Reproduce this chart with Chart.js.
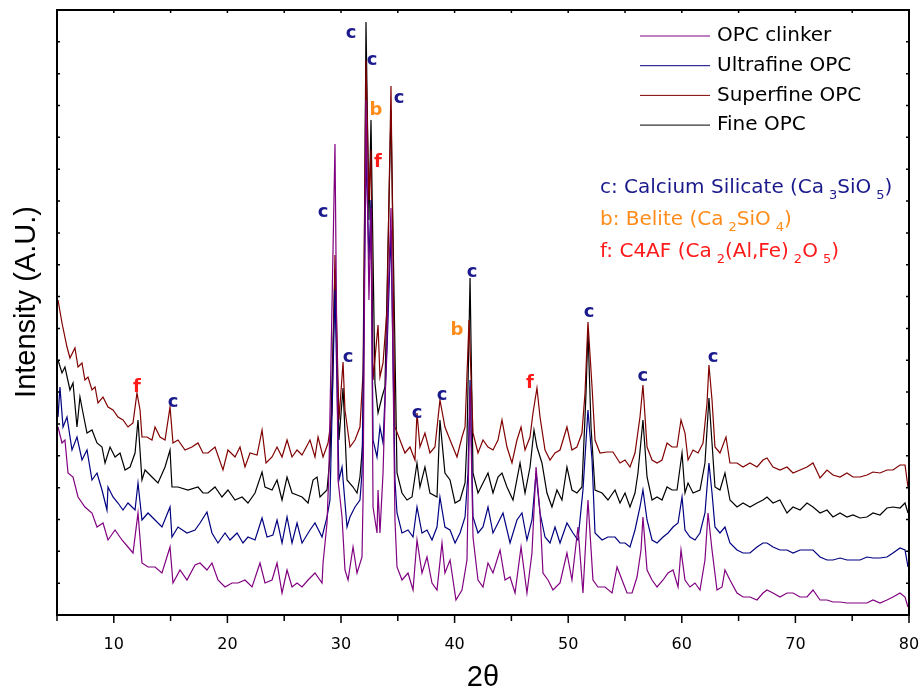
<!DOCTYPE html>
<html lang="en">
<head>
    <meta charset="UTF-8">
    <title>XRD patterns of OPC samples</title>
    <script src="https://cdn.jsdelivr.net/npm/chart.js"></script>
    <style>
        html, body { margin: 0; padding: 0; background: #fff; }
        #wrap { width: 923px; height: 692px; }
    </style>
</head>
<body>
    <div id="wrap"><canvas id="xrdChart"></canvas></div>

    <script>
        // 2-theta positions and intensities (A.U.), one pair of arrays per sample
        const superfineX = [5.09,5.44,5.88,6.14,6.58,6.85,7.20,7.46,7.73,8.08, 8.35,8.61,9.05,9.49,9.93,10.37,10.81,11.25,11.69,12.04,
            12.31,12.48,12.92,13.36,13.63,14.07,14.51,14.95,15.21,15.65, 16.27,16.88,17.41,17.85,18.29,18.91,19.61,20.05,20.67,21.11,
            21.55,21.99,22.61,23.05,23.40,23.93,24.37,24.81,25.25,25.69, 26.13,26.57,27.27,27.71,27.98,28.42,28.86,29.21,29.47,29.82,
            30.18,30.35,30.79,31.23,31.67,31.94,32.20,32.46,32.64,32.82, 33.26,33.43,33.70,34.05,34.40,34.75,35.19,35.63,36.07,36.51,
            36.69,36.95,37.39,37.83,38.27,38.71,39.15,39.60,40.21,40.65, 40.92,41.27,41.62,42.06,42.50,42.94,43.38,43.82,44.17,44.61,
            45.05,45.49,45.85,46.20,46.64,46.90,47.25,47.52,47.96,48.40, 48.84,49.28,49.89,50.33,50.77,51.21,51.48,51.74,52.10,52.36,
            52.80,53.42,53.94,54.56,55.00,55.44,55.88,56.32,56.58,56.94, 57.38,57.82,58.26,58.70,59.14,59.58,59.93,60.28,60.55,60.99,
            61.43,61.87,62.22,62.39,62.66,62.92,63.36,63.89,64.24,64.86, 65.39,66.00,66.62,67.15,67.50,68.03,68.64,69.26,69.79,70.41,
            71.02,71.55,72.17,72.78,73.31,73.93,74.54,75.07,75.69,76.30, 76.83,77.45,78.06,78.59,79.21,79.65,79.91];
        const superfineY = [315,292,268,257,267,248,252,235,238,225, 228,212,218,208,205,198,195,188,192,222,
            205,178,178,175,188,178,175,208,172,175, 165,168,172,162,162,168,145,165,158,168,
            148,162,160,185,152,158,168,158,175,158, 165,160,175,158,178,158,172,202,360,195,
            253,205,168,175,188,242,555,415,465,235, 290,238,252,305,529,188,175,162,168,155,
            202,168,182,162,168,215,188,175,158,178, 188,295,182,162,175,168,165,175,195,168,
            152,175,188,165,178,202,227,198,165,155, 162,165,188,165,168,182,222,293,228,175,
            162,163,163,152,155,148,162,198,230,168, 155,152,155,172,168,168,195,182,155,165,
            162,172,212,250,215,168,162,178,152,152, 148,152,148,155,157,148,145,148,142,145,
            148,152,137,145,140,138,142,138,138,140, 143,142,145,145,150,150,128];

        const fineX = [5.09,5.44,5.70,6.14,6.41,6.76,7.02,7.29,7.64,8.08, 8.52,8.96,9.23,9.67,10.11,10.55,10.99,11.43,11.87,12.13,
            12.48,12.75,13.36,13.89,14.51,14.95,15.12,15.65,16.53,17.41, 17.85,18.29,18.91,19.52,20.05,20.67,21.29,21.81,22.43,23.05,
            23.31,23.93,24.37,24.81,25.25,25.69,26.13,26.57,27.10,27.54, 27.89,28.15,28.77,29.03,29.47,29.82,30.18,30.53,31.06,31.41,
            31.67,31.94,32.20,32.46,32.64,32.99,33.26,33.61,33.87,34.40, 34.93,35.37,35.81,36.25,36.69,36.95,37.39,37.83,38.45,38.71,
            39.15,39.60,40.04,40.48,40.92,41.09,41.36,41.62,42.06,42.50, 42.94,43.38,43.82,44.17,44.61,45.14,45.76,46.20,46.64,46.99,
            47.25,47.69,48.13,48.57,49.01,49.45,49.89,50.33,50.77,51.21, 51.57,51.74,52.01,52.36,52.98,53.50,54.12,54.56,55.00,55.44,
            55.88,56.14,56.58,56.94,57.38,57.82,58.26,58.70,59.14,59.58, 60.02,60.28,60.55,60.99,61.60,62.04,62.39,62.66,62.92,63.36,
            63.80,64.24,64.86,65.39,66.00,66.62,67.15,67.50,68.03,68.64, 69.26,69.79,70.41,71.02,71.55,72.17,72.78,73.31,73.93,74.54,
            75.07,75.69,76.30,76.83,77.45,78.06,78.59,79.21,79.65,79.91];
        const fineY = [255,242,248,225,232,188,218,202,182,185, 172,168,152,168,158,162,145,148,162,195,
            135,145,138,132,148,165,128,128,125,128, 122,122,128,118,125,115,118,112,122,143,
            128,125,135,115,138,122,120,118,112,135, 138,118,125,158,345,175,227,135,128,122,
            138,175,593,395,495,232,202,218,228,505, 142,122,115,118,152,128,148,122,118,195,
            142,135,112,115,132,175,337,142,122,132, 142,122,138,142,128,115,152,122,148,185,
            168,152,122,108,125,115,148,125,122,128, 222,285,188,125,122,115,125,112,122,108,
            122,142,195,138,115,118,115,128,125,125, 162,122,132,122,125,152,217,172,128,125,
            142,115,108,112,108,112,115,118,112,115, 102,108,105,112,108,102,105,98,102,98,
            100,97,98,102,100,107,108,107,112,102];

        const ultrafineX = [5.09,5.26,5.53,5.88,6.32,6.76,7.20,7.64,8.08,8.52, 8.96,9.40,9.49,9.93,10.37,10.81,11.25,11.87,12.13,12.48,
            13.01,13.63,14.24,14.95,15.12,15.65,16.44,17.15,17.59,18.20, 18.64,19.17,19.79,20.23,20.85,21.37,21.81,22.43,23.05,23.49,
            24.01,24.37,24.81,25.25,25.69,26.13,26.57,27.27,27.71,28.33, 28.77,29.03,29.47,29.82,30.09,30.53,30.79,31.23,31.67,31.85,
            32.20,32.46,32.64,32.82,33.17,33.43,33.70,34.05,34.40,34.75, 34.93,35.37,35.90,36.34,36.69,37.13,37.57,38.01,38.45,38.71,
            39.15,39.60,40.04,40.48,40.92,41.18,41.36,41.62,42.06,42.50, 42.94,43.38,43.82,44.26,44.88,45.49,45.93,46.37,46.81,47.17,
            47.52,47.96,48.40,48.84,49.28,49.89,50.42,50.86,51.30,51.74, 52.10,52.36,52.98,53.50,54.12,54.56,55.00,55.44,55.88,56.32,
            56.58,56.94,57.38,57.82,58.35,58.79,59.23,59.67,60.02,60.28, 60.72,61.16,61.60,62.04,62.39,62.66,62.92,63.36,63.80,64.24,
            64.86,65.39,66.00,66.62,67.15,67.50,68.03,68.64,69.26,69.79, 70.41,71.02,71.55,72.17,72.78,73.31,73.93,74.54,75.07,75.69,
            76.30,76.83,77.45,78.06,78.59,79.21,79.65,79.91];
        const ultrafineY = [198,228,188,198,165,178,155,165,135,142, 125,105,128,118,112,105,112,105,132,95,
            102,95,88,108,78,88,82,85,92,103, 82,72,82,75,82,72,78,75,97,78,
            80,95,72,98,72,92,72,85,92,78, 98,115,325,135,148,88,98,108,115,142,
            465,355,415,175,158,188,172,265,385,135, 102,82,85,78,108,82,85,75,88,118,
            88,85,72,82,98,142,235,98,82,88, 108,82,92,102,72,95,102,75,95,142,
            102,78,72,88,72,92,82,75,125,205, 155,82,75,78,78,72,72,68,85,108,
            125,95,75,72,78,82,88,92,118,85, 78,75,82,102,152,122,88,82,88,72,
            65,62,62,68,72,72,68,65,65,62, 65,65,65,58,55,55,57,55,55,55,
            58,57,57,58,62,67,65,48];

        const clinkerX = [5.09,5.44,5.70,5.97,6.41,6.85,7.46,8.08,8.52,9.05, 9.49,10.11,10.72,11.25,11.69,12.13,12.48,13.01,13.63,14.24,
            14.95,15.21,15.83,16.44,17.15,17.59,18.20,18.64,19.17,19.79, 20.40,20.93,21.55,22.17,22.87,23.31,23.93,24.37,24.81,25.25,
            25.69,26.13,26.57,27.10,27.71,28.33,28.42,28.77,28.94,29.47, 29.74,30.09,30.35,30.62,31.06,31.41,31.85,31.94,32.20,32.46,
            32.64,32.82,33.17,33.26,33.43,33.70,34.14,34.40,34.75,34.93, 35.37,35.90,36.34,36.69,37.13,37.57,38.01,38.45,38.89,39.15,
            39.60,40.12,40.65,41.09,41.36,41.62,42.06,42.50,42.94,43.38, 44.00,44.44,44.88,45.32,45.85,46.37,46.81,47.17,47.52,47.78,
            48.22,48.66,49.28,49.89,50.33,50.86,51.30,51.74,52.18,52.62, 53.24,53.86,54.30,54.74,55.18,55.62,56.06,56.41,56.58,56.94,
            57.38,57.82,58.35,58.79,59.23,59.67,59.93,60.28,60.72,61.16, 61.60,62.04,62.31,62.66,63.10,63.54,63.80,64.24,64.86,65.39,
            66.00,66.62,67.15,67.50,68.03,68.64,69.26,69.79,70.41,71.02, 71.55,72.17,72.78,73.31,73.93,74.54,75.07,75.69,76.30,76.83,
            77.45,78.06,78.59,79.21,79.65,79.91];
        const clinkerY = [188,172,175,142,138,118,108,102,88,92, 75,85,75,68,62,102,52,48,48,42,
            68,32,45,35,50,52,45,52,35,28, 32,32,35,28,52,32,35,52,22,45,
            28,32,28,35,42,32,52,92,145,471, 135,98,45,35,68,42,58,115,515,315,
            407,108,82,125,82,142,315,407,95,48, 35,42,25,75,42,58,32,25,72,42,
            55,15,25,55,228,78,35,28,52,42, 65,35,38,22,68,22,62,148,102,42,
            35,25,32,62,35,88,22,115,35,28, 28,22,48,35,22,22,38,65,98,45,
            35,28,35,42,45,28,65,35,28,32, 25,55,102,65,25,28,45,35,22,18,
            18,15,22,25,22,18,22,22,18,18, 25,15,15,13,13,12,12,12,12,15,
            12,15,18,22,18,8];

        const tickLabels = [10, 20, 30, 40, 50, 60, 70, 80];

        // phase letters above the peaks: [letter, 2theta, height in A.U.]
        const peakLabels = [
            ['c', 30.88, 582], ['c', 32.73, 555], ['c', 35.11, 517], ['b', 33.08, 505], ['f', 33.26, 453],
            ['c', 28.42, 403], ['c', 30.62, 258], ['c', 36.69, 202], ['c', 38.89, 220], ['b', 40.21, 285],
            ['c', 41.53, 343], ['f', 46.64, 232], ['c', 51.83, 303], ['c', 56.58, 239], ['c', 62.75, 258],
            ['f', 12.04, 228], ['c', 15.21, 213]
        ];

        const phaseColors = { c: '#1a1a8c', b: '#ff8c1a', f: '#ff1a1a' };
        const yMax = 605;
        const yStep = yMax / 19;

        const toPoints = (xs, ys) => xs.map((x, i) => ({ x: x, y: ys[i] }));

        const series = [
            { label: 'OPC clinker', xs: clinkerX, ys: clinkerY, color: '#800080' },
            { label: 'Ultrafine OPC', xs: ultrafineX, ys: ultrafineY, color: '#000080' },
            { label: 'Superfine OPC', xs: superfineX, ys: superfineY, color: '#800000' },
            { label: 'Fine OPC', xs: fineX, ys: fineY, color: '#000000' }
        ];

        // frame, ticks, y title, legend and phase notes are drawn by hand
        const decor = {
            id: 'decor',
            afterDraw(chart) {
                const { ctx, chartArea: a, scales: { x, y } } = chart;
                ctx.save();
                ctx.strokeStyle = '#000';
                ctx.lineWidth = 2;
                ctx.strokeRect(a.left, a.top, a.right - a.left, a.bottom - a.top);

                ctx.lineWidth = 1.5;
                ctx.beginPath();
                for (let v = 5; v <= 80; v += 5) {
                    const px = x.getPixelForValue(v);
                    ctx.moveTo(px, a.bottom);
                    ctx.lineTo(px, a.bottom + (v % 10 === 0 ? 8 : 6));
                    ctx.moveTo(px, a.top);
                    ctx.lineTo(px, a.top + 3);
                }
                for (let i = 1; i < 19; i++) {
                    const py = y.getPixelForValue(i * yStep);
                    ctx.moveTo(a.left, py);
                    ctx.lineTo(a.left + 3, py);
                    ctx.moveTo(a.right, py);
                    ctx.lineTo(a.right - 3, py);
                }
                ctx.stroke();

                // y axis title
                ctx.save();
                ctx.translate(27, 302);
                ctx.rotate(-Math.PI / 2);
                ctx.font = '29px "Liberation Sans"';
                ctx.fillStyle = '#000';
                ctx.textAlign = 'center';
                ctx.textBaseline = 'middle';
                ctx.fillText('Intensity (A.U.)', 0, 0);
                ctx.restore();

                // legend
                ctx.font = '20px "DejaVu Sans"';
                ctx.textBaseline = 'middle';
                ctx.textAlign = 'left';
                chart.data.datasets.forEach((ds, i) => {
                    const ly = 36 + i * 29.7;
                    ctx.strokeStyle = ds.borderColor;
                    ctx.lineWidth = 1;
                    ctx.beginPath();
                    ctx.moveTo(640, ly);
                    ctx.lineTo(710, ly);
                    ctx.stroke();
                    ctx.fillStyle = '#000';
                    ctx.fillText(ds.label, 717, ly);
                });

                // phase notes with subscripts
                const notes = [
                    [phaseColors.c, [['c: Calcium Silicate (Ca'], ['3', 1], ['SiO'], ['5', 1], [')']]],
                    [phaseColors.b, [['b: Belite (Ca'], ['2', 1], ['SiO'], ['4', 1], [')']]],
                    [phaseColors.f, [['f: C4AF (Ca'], ['2', 1], ['(Al,Fe)'], ['2', 1], ['O'], ['5', 1], [')']]]
                ];
                notes.forEach(([color, parts], i) => {
                    let cx = 600;
                    const cy = 188 + i * 32;
                    ctx.fillStyle = color;
                    parts.forEach(([t, sub]) => {
                        if (sub) {
                            ctx.font = '13px "DejaVu Sans"';
                            cx += 5;
                            ctx.fillText(t, cx, cy + 8);
                        } else {
                            ctx.font = '20px "DejaVu Sans"';
                            ctx.fillText(t, cx, cy);
                        }
                        cx += ctx.measureText(t).width;
                    });
                });

                // peak letters
                ctx.font = 'bold 18px "DejaVu Sans"';
                ctx.textAlign = 'center';
                peakLabels.forEach(([letter, tt, h]) => {
                    ctx.fillStyle = phaseColors[letter];
                    ctx.fillText(letter, x.getPixelForValue(tt), y.getPixelForValue(h));
                });
                ctx.restore();
            }
        };

        const ctx = document.getElementById('xrdChart').getContext('2d');

        const config = {
            type: 'line',
            data: {
                datasets: series.map(s => ({
                    label: s.label,
                    data: toPoints(s.xs, s.ys),
                    borderColor: s.color,
                    backgroundColor: s.color,
                    borderWidth: 1.2,
                    pointRadius: 0,
                    tension: 0,
                    fill: false
                }))
            },
            options: {
                responsive: true,
                maintainAspectRatio: false,
                animation: false,
                layout: { padding: { left: 57, right: 14, top: 10, bottom: 0 } },
                plugins: {
                    legend: { display: false },
                    tooltip: { enabled: false }
                },
                scales: {
                    x: {
                        type: 'linear',
                        min: 5,
                        max: 80,
                        grid: { display: false, drawTicks: false },
                        border: { display: false },
                        afterBuildTicks: (scale) => { scale.ticks = tickLabels.map(v => ({ value: v })); },
                        afterFit: (scale) => {
                            scale.height = 77;
                            scale.paddingLeft = 0;
                            scale.paddingRight = 0;
                        },
                        ticks: {
                            autoSkip: false,
                            maxRotation: 0,
                            padding: 20,
                            color: '#000',
                            font: { family: 'DejaVu Sans', size: 16 }
                        },
                        title: {
                            display: true,
                            text: '2θ',
                            color: '#000',
                            font: { family: 'Liberation Sans', size: 29, lineHeight: 1 },
                            padding: { top: 0, bottom: 0 }
                        }
                    },
                    y: {
                        display: false,
                        min: 0,
                        max: yMax
                    }
                }
            },
            plugins: [decor]
        };

        const xrdChart = new Chart(ctx, config);
    </script>
</body>
</html>
